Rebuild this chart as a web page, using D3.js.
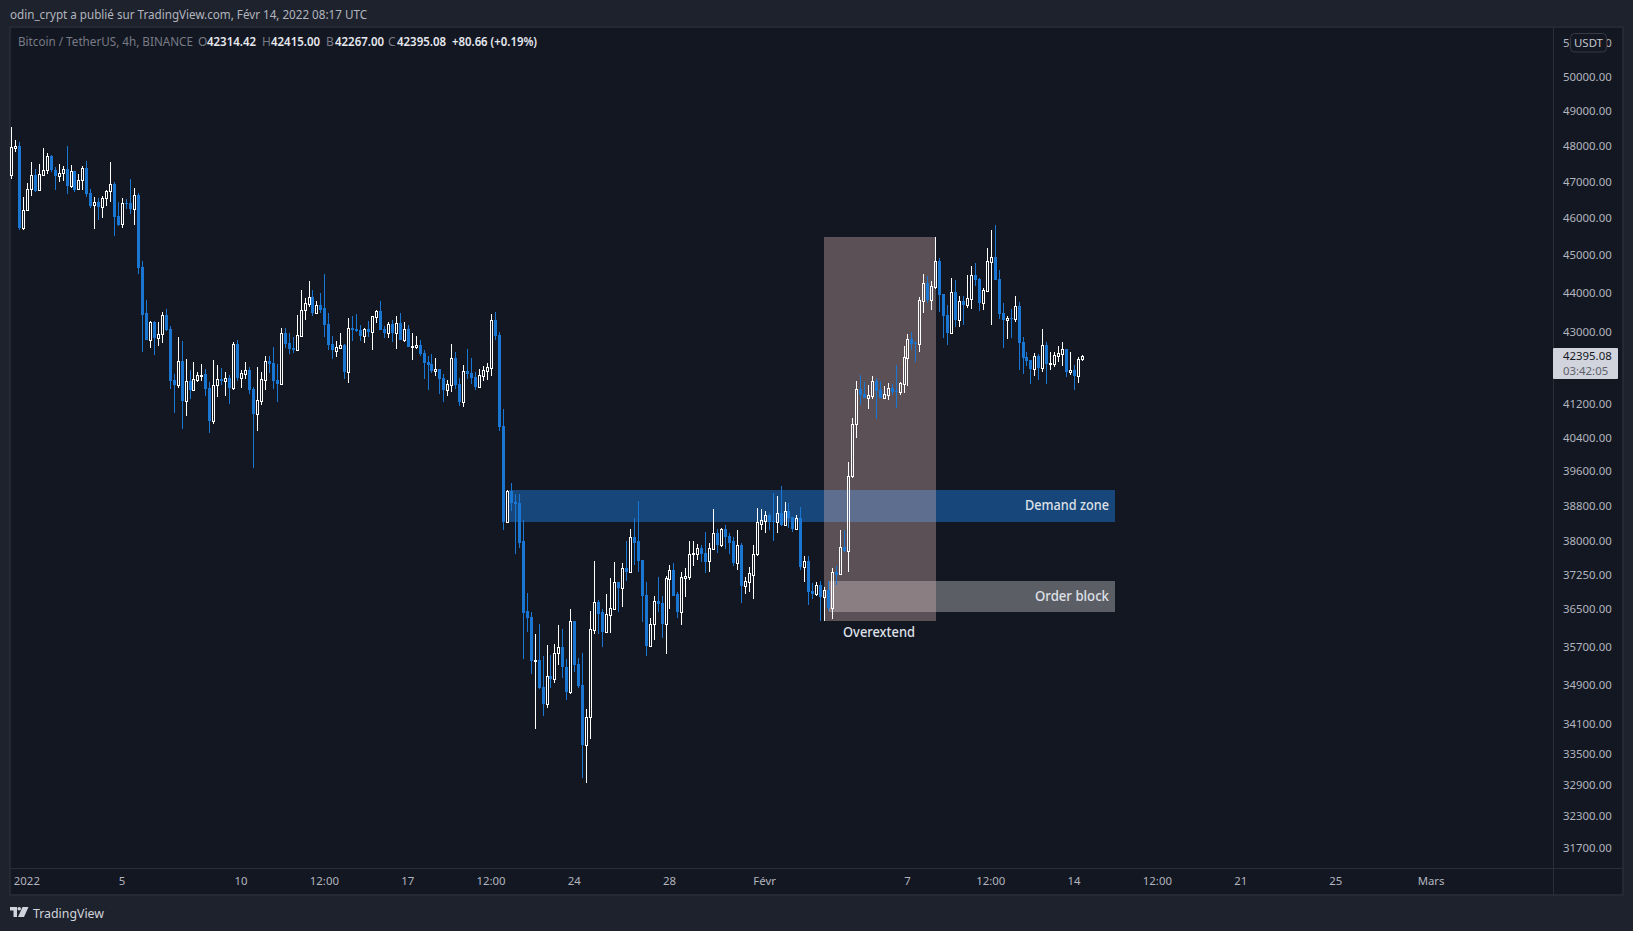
<!DOCTYPE html>
<html><head><meta charset="utf-8"><title>BTC/USDT</title>
<script src="https://cdn.jsdelivr.net/npm/d3@7"></script>
<style>
html,body{margin:0;padding:0;background:#1e222d;overflow:hidden}
svg{display:block}
text{font-family:"Noto Sans",Roboto,sans-serif}
</style></head><body><svg id="c" width="1633" height="931"></svg>
<script>
// ---------- data ----------
const opens=[
47170,47940,47990,45710,46200,46800,47170,46750,47190,47310,
47710,47310,47160,47230,47340,46880,47280,46780,47030,47380,
46680,46340,46430,46300,46540,46720,46930,46060,45820,46400,
46400,46250,46630,44690,43470,42800,43260,42850,42940,43440,
43080,41800,41680,42270,41280,41780,41560,41800,41900,41950,
41600,40800,41670,41830,41780,41850,41600,42700,41850,41950,
42050,41580,40970,41280,41800,42270,42220,41800,41700,42970,
42720,42600,42550,42900,43560,43720,43900,43490,43690,43610,
43210,42700,42520,42600,42670,42000,43100,43080,43050,42900,
43080,43000,43390,43540,43080,42960,43210,42960,43230,42800,
43080,42620,42620,42670,42470,42250,42200,42020,42070,41850,
41560,41680,42350,41700,41260,42020,41970,41870,41630,41900,
42020,42100,43310,42930,40680,38440,39150,38890,38870,37990,
36450,36340,35390,35410,34850,34520,35080,35030,35570,35700,
35280,34760,36250,35340,34890,33690,34240,36060,36660,36430,
36020,36380,36510,37080,36950,37390,37320,38080,37990,37580,
36800,35720,36180,36680,36640,36190,37150,37360,36820,36430,
37170,37210,37700,37720,37850,37740,37560,37830,38170,37900,
38260,38120,37990,37500,37900,37010,37100,37250,37700,38390,
38460,38600,38460,38420,38640,38370,38690,38550,38260,38510,
37410,37560,36900,36820,37030,36770,36920,36530,37320,37270,
37870,37780,39500,40710,41580,41460,41360,41410,41780,41560,
41360,41430,41600,41530,41510,41700,42350,42830,42720,42700,
43800,44270,43820,44160,44840,43980,43440,42980,44030,43310,
43800,43690,43850,44480,44370,43740,44060,44820,44950,44370,
43490,43310,43360,43340,43670,42750,42370,42300,42070,42400,
42100,42670,42200,42200,42400,42450,42570,42000,42050,41900,42314.42];
const highs=[
48530,48170,48110,46560,46950,47540,47340,47490,47940,47790,
47740,47410,47490,47430,47990,47460,47290,47210,47430,47560,
46790,46570,46540,46600,46770,47540,46990,46430,46540,46510,
47060,46810,46670,44840,43810,43280,43280,43260,43510,43590,
43160,41950,42880,42780,42320,42050,42250,42000,42200,42070,
41750,42300,42170,42100,42000,41920,42750,42800,42050,42250,
42120,41630,42120,42000,42400,42400,42620,42200,43100,43100,
42970,42870,43440,44080,43870,44320,44080,43800,44000,44500,
43480,42900,42780,42980,42700,43360,43410,43460,43180,43100,
43280,43410,43570,43800,43160,43260,43310,43410,43490,43260,
43180,42970,42900,42800,42550,42400,42450,42350,42070,41950,
41800,42700,42500,41850,42170,42570,42350,42000,42070,42150,
42220,43460,43510,43000,41090,39170,39330,39060,39080,38480,
36840,36430,35960,36190,35510,35740,35530,35760,36150,36080,
35450,36510,36250,35470,35570,34400,36450,37560,36700,36510,
36820,37170,37540,37100,37520,37990,38260,38510,38920,37580,
37080,36320,36790,37210,36790,37230,37470,37500,36880,37300,
37390,38010,37990,37940,37920,38210,37960,38730,38280,38300,
38370,38190,38080,38240,37960,37210,37410,37900,38760,38730,
38670,38640,39100,39030,39260,38890,38870,38550,38600,38780,
37670,37670,37060,37100,37120,36990,37120,37390,37450,38240,
38240,39820,40870,41780,41920,41750,41680,41900,41850,41780,
41650,41730,41700,42170,41750,42650,42950,43000,42780,43900,
44500,44450,44320,45490,44920,43980,43690,44400,44350,43930,
43930,44480,44710,44790,44400,44140,45190,45680,45810,44610,
43740,43410,43590,43930,43770,42880,42500,42300,42470,42450,
43080,42750,42500,42500,42650,42750,42570,42500,42170,42370,42415];
const lows=[
47080,47830,45680,45680,46200,46600,46710,46750,47190,47210,
47270,46770,46970,47010,46650,46820,46710,46750,46770,46570,
46260,45700,45950,46000,46310,46420,45510,45770,45730,46240,
46100,45810,44500,42500,42800,42600,42420,42630,42720,43030,
41580,40990,41600,40610,40920,41330,41550,41750,41780,41410,
40510,40730,41380,41680,41410,41210,41560,41780,41600,41830,
41460,39680,40560,41170,41550,41970,41580,41260,41680,42600,
42450,42470,42520,42880,43310,43640,43410,43490,43490,42880,
42550,42320,42370,42600,41820,41720,42780,43000,42780,42720,
42880,42550,43230,43050,42850,42850,42750,42570,42800,42750,
42620,42300,42570,42400,41820,41560,41970,41900,41450,41260,
41390,41510,41580,41160,41140,41820,41700,41560,41630,41780,
41800,41900,42800,40560,38240,38440,38670,37720,37850,35450,
36020,35120,34010,34810,34260,34420,34830,34950,35320,35050,
34600,34720,35160,34830,33040,32930,33810,35960,35960,35700,
36020,35980,36490,36430,36550,37120,37320,37470,37320,36230,
35510,35700,35830,36430,35890,35550,36510,36790,36300,36170,
36770,37140,37450,37580,37540,37280,37320,37830,37740,37870,
37810,37720,37450,37360,36640,36820,36880,36730,37670,38240,
38190,38240,38010,38190,38350,38370,38300,38210,38240,37360,
37080,36600,36730,36790,36250,36250,36450,36280,37030,37250,
37760,37300,39450,40390,41190,41360,41090,41330,40850,41360,
41330,41310,41430,41120,41430,41480,41650,42550,42250,42500,
43490,43740,43570,44110,43510,42850,42670,42950,43130,43130,
43180,43620,43590,44190,43540,43570,44060,43180,44350,43340,
42600,42830,42850,43260,42050,41950,42150,41700,41900,41800,
42000,41700,42050,42120,42250,42150,41870,41920,41560,41730,42267];
const closes=[
47960,47990,45710,46220,46800,47170,46740,47200,47310,47700,
47310,47160,47230,47340,46880,47280,46770,47030,47370,46650,
46330,46430,46290,46540,46740,46920,46030,45810,46400,46380,
46240,46620,44660,43440,42800,43260,42850,42950,43440,43060,
41780,41680,42270,41280,41780,41560,41830,41910,41930,41580,
40800,41670,41820,41780,41850,41600,42700,41850,41970,42050,
41560,40970,41310,41830,42270,42200,41780,41700,42970,42700,
42570,42550,42920,43560,43740,43900,43490,43690,43570,43180,
42670,42550,42610,42670,42000,43100,43060,43030,42900,43070,
43000,43400,43530,43060,42960,43200,42960,43230,42800,43080,
42620,42650,42670,42440,42220,42170,42020,42070,41820,41560,
41700,42350,41680,41260,42020,41950,41850,41630,41920,42050,
42120,43310,42900,40660,38440,39150,38870,38850,37960,36420,
36320,35390,35410,34830,34520,35080,35030,35570,35700,35280,
34760,36250,35320,34870,33690,34240,36080,36660,36400,36020,
36400,36530,37080,36950,37390,37320,38080,37960,37560,36790,
35720,36190,36680,36620,36190,37170,37360,36790,36430,37190,
37230,37720,37740,37850,37720,37540,37850,38170,37900,38260,
38100,37960,37500,37900,37010,37120,37280,37720,38420,38480,
38600,38420,38420,38640,38370,38690,38530,38260,38510,37410,
37560,36880,36820,37030,36770,36920,36530,37320,37250,37870,
37780,39500,40730,41580,41430,41360,41430,41780,41530,41360,
41460,41600,41510,41510,41730,42370,42830,42700,42700,43820,
44270,43820,44190,44840,43950,43410,42980,44030,43310,43800,
43690,43870,44480,44350,43740,44080,44840,44950,44350,43460,
43310,43360,43340,43670,42720,42350,42270,42070,42400,42100,
42670,42200,42220,42420,42470,42570,42000,42050,41900,42320,42395.08];

const priceTicks=[51000,50000,49000,48000,47000,46000,45000,44000,43000,41200,40400,39600,38800,38000,37250,36500,35700,34900,34100,33500,32900,32300,31700];
const timeTickIndex=[4,28,58,79,100,121,142,166,190,226,247,268,289,310,334,358];
const timeTickLabels=["2022","5","10","12:00","17","12:00","24","28","Févr","7","12:00","14","12:00","21","25","Mars"];

const demandZone={from:125.5,to:278.3,hi:39170,lo:38440,label:"Demand zone"};
const orderBlock={from:206,to:278.3,hi:37120,lo:36430,label:"Order block"};
const overextend={from:204.8,to:233.05,hi:45490,lo:36250,label:"Overextend"};
const lastPrice=42395.08, countdown="03:42:05";
const legendName="Bitcoin / TetherUS, 4h, BINANCE";
const legendOHLC=[["O","42314.42",199,207],["H","42415.00",263,271],["B","42267.00",327,335],["C","42395.08",389,397]];
const legendChange="+80.66 (+0.19%)";
const headline="odin_crypt a publié sur TradingView.com, Févr 14, 2022 08:17 UTC";

// ---------- scales ----------
const y=d3.scaleLog().domain([31700,50000]).range([847.7,76.7]);
const x=d3.scaleLinear().domain([0,270]).range([11.5,1082.5]);

const bg="#131722",page="#1e222d",line="#2a2e39",blue="#1976d2",white="#ffffff";
const svg=d3.select("#c");
svg.append("rect").attr("width",1633).attr("height",931).attr("fill",page);
svg.append("rect").attr("x",10).attr("y",27).attr("width",1613).attr("height",868).attr("fill",bg).attr("stroke",line).attr("stroke-width",1.5);

function fit(sel,w){return sel.attr("textLength",w).attr("lengthAdjust","spacingAndGlyphs");}

// header
fit(svg.append("text").attr("x",10).attr("y",19).attr("font-size",12.5).attr("fill","#b2b5be").text(headline),357);

// legend
const lg=svg.append("g").attr("font-size",12);
fit(lg.append("text").attr("x",18).attr("y",45.5).attr("fill","#787b86").text(legendName),175);
legendOHLC.forEach(r=>{
  lg.append("text").attr("x",r[2]-1).attr("y",45.5).attr("fill","#787b86").text(r[0]);
  fit(lg.append("text").attr("x",r[3]).attr("y",45.5).attr("fill","#e6e8ee").attr("font-weight",600).text(r[1]),49);
});
fit(lg.append("text").attr("x",452).attr("y",45.5).attr("fill","#e6e8ee").attr("font-weight",600).text(legendChange),85);

// separators
svg.append("line").attr("x1",1553.5).attr("x2",1553.5).attr("y1",27).attr("y2",895).attr("stroke",line);
svg.append("line").attr("x1",10).attr("x2",1623).attr("y1",868.5).attr("y2",868.5).attr("stroke",line);

// zones
function box(z,fill){
  return svg.append("rect").attr("x",Math.round(x(z.from))).attr("width",Math.round(x(z.to))-Math.round(x(z.from)))
    .attr("y",Math.round(y(z.hi))).attr("height",Math.round(y(z.lo))-Math.round(y(z.hi))).attr("fill",fill);
}
box(demandZone,"rgba(25,118,210,0.5)");
box(orderBlock,"rgba(255,255,255,0.31)");
box(overextend,"rgba(227,186,183,0.35)");

// candles
const idx=d3.range(closes.length);
const cg=svg.append("g").attr("shape-rendering","crispEdges");
idx.forEach(i=>{
  const x0=Math.floor(x(i))-1;
  const up=closes[i]>=opens[i];
  const top=Math.round(y(Math.max(opens[i],closes[i])));
  const bot=Math.round(y(Math.min(opens[i],closes[i])));
  const yH=Math.round(y(highs[i])), yL=Math.round(y(lows[i]));
  const col=up?white:blue;
  if(yH<top) cg.append("rect").attr("x",x0+1).attr("y",yH).attr("width",1).attr("height",top-yH).attr("fill",col);
  if(yL>bot) cg.append("rect").attr("x",x0+1).attr("y",bot).attr("width",1).attr("height",yL-bot).attr("fill",col);
  if(up){
    cg.append("rect").attr("x",x0+.5).attr("y",top+.5).attr("width",2).attr("height",Math.max(bot-top,1)).attr("fill","none").attr("stroke",white).attr("stroke-width",1);
  }else{
    cg.append("rect").attr("x",x0).attr("y",top).attr("width",3).attr("height",Math.max(bot-top,1)).attr("fill",blue);
  }
});

// zone labels
function label(t,xp,yp,anchor,w){
  fit(svg.append("text").attr("x",xp).attr("y",yp).attr("dy",".35em").attr("text-anchor",anchor)
    .attr("font-size",13.5).attr("font-weight",500).attr("fill","#dfe1e8").text(t),w);
}
label(demandZone.label,1109,505.5,"end",84);
label(orderBlock.label,1109,596,"end",74);
label(overextend.label,879,632,"middle",72);

// axes
const axisFont='"Noto Sans",Roboto,sans-serif';
const ya=d3.axisRight(y).tickValues(priceTicks).tickFormat(d=>d.toFixed(2)).tickSize(0).tickPadding(0);
const yg=svg.append("g").attr("transform","translate(1563,0)").call(ya);
yg.select(".domain").remove();
yg.selectAll("text").attr("font-size",11.4).attr("font-family",axisFont).attr("fill","#b2b5be");

const xa=d3.axisBottom(x).tickValues(timeTickIndex).tickFormat((d,i)=>timeTickLabels[i]).tickSize(0).tickPadding(0);
const xg=svg.append("g").attr("transform","translate(-1,877)").call(xa);
xg.select(".domain").remove();
xg.selectAll("text").attr("font-size",11.4).attr("font-family",axisFont).attr("fill","#b2b5be");

// USDT badge
svg.append("rect").attr("x",1570.5).attr("y",33.5).attr("width",36).attr("height",18.5).attr("rx",4).attr("fill",bg).attr("stroke","#363a45");
svg.append("text").attr("x",1588.5).attr("y",43).attr("dy",".35em").attr("text-anchor","middle").attr("font-size",11.4).attr("fill","#c3c6ce").text("USDT");

// last price tag
const ly=y(lastPrice);
svg.append("rect").attr("x",1553).attr("y",Math.round(ly)-8).attr("width",65).attr("height",31).attr("rx",1).attr("fill","#d1d4dc");
svg.append("text").attr("x",1563).attr("y",ly).attr("dy",".35em").attr("font-size",11.4).attr("fill","#131722").text(lastPrice.toFixed(2));
svg.append("text").attr("x",1563).attr("y",ly+15).attr("dy",".35em").attr("font-size",11.4).attr("fill","#5d606b").text(countdown);

// TradingView mark
const lg2=svg.append("g").attr("transform","translate(10,907)").attr("fill","#d1d4dc");
lg2.append("path").attr("d","M0 0H7V10H3.5V3.5H0Z");
lg2.append("circle").attr("cx",9.2).attr("cy",1.8).attr("r",1.8);
lg2.append("path").attr("d","M12.5 0H18.5L14 10H8Z");
fit(svg.append("text").attr("x",33).attr("y",913).attr("dy",".35em").attr("font-size",13).attr("fill","#d1d4dc").text("TradingView"),71);
</script></body></html>
